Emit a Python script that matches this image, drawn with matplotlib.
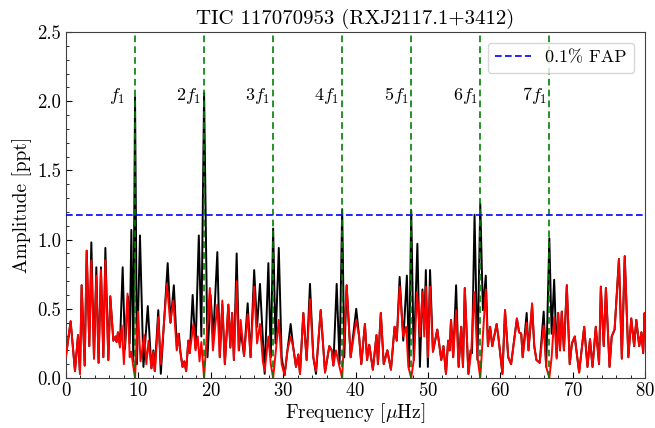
import numpy as np
import matplotlib
matplotlib.use("Agg")
import matplotlib.pyplot as plt

plt.rcParams['font.family'] = 'serif'
plt.rcParams['font.serif'] = ['cmr10']
plt.rcParams['mathtext.fontset'] = 'cm'
plt.rcParams['axes.unicode_minus'] = False
plt.rcParams['axes.formatter.use_mathtext'] = True

# ---------------- data ----------------
f1 = 9.54  # fundamental frequency [muHz]
harmonic_numbers = [1, 2, 3, 4, 5, 6, 7]
harmonic_labels = [r'$f_1$', r'$2f_1$', r'$3f_1$', r'$4f_1$', r'$5f_1$', r'$6f_1$', r'$7f_1$']
fap_level = 1.18

# original amplitude spectrum (black): frequency [muHz], amplitude [ppt]
black_freq = [0.0, 0.64, 1.24, 1.66, 1.93, 2.16, 2.58, 2.86, 3.22, 3.50, 3.87, 4.19, 4.50, 4.83,
              5.16, 5.44, 5.85, 6.12, 6.54, 6.85, 7.00, 7.18, 7.45, 7.83, 8.15, 8.56, 8.80, 9.03,
              9.30, 9.54, 9.80, 10.22, 10.70, 11.30, 11.80, 12.07, 12.25, 12.75, 13.10, 14.05,
              14.45, 14.90, 15.33, 15.60, 15.80, 16.10, 16.35, 16.60, 16.90, 17.10, 17.50, 17.90,
              18.35, 18.70, 19.08, 19.55, 19.97, 20.35, 20.91, 21.25, 21.60, 21.95, 22.43, 22.70,
              22.95, 23.20, 23.58, 23.90, 24.13, 24.60, 25.10, 25.50, 26.00, 26.40, 26.80, 27.45,
              27.96, 28.30, 28.62, 28.95, 29.40, 29.80, 30.20, 30.60, 31.04, 31.40, 31.78, 32.10,
              32.33, 32.79, 33.25, 33.71, 34.17, 34.54, 35.19, 35.79, 36.38, 36.71, 36.94, 37.40,
              37.80, 38.16, 38.45, 38.78, 39.33, 40.10, 40.50, 40.80, 41.30, 41.60, 41.90, 42.40,
              42.90, 43.10, 43.50, 43.90, 44.40, 44.90, 45.40, 45.70, 46.10, 46.60, 47.10, 47.40,
              47.70, 48.05, 48.55, 48.90, 49.25, 49.50, 49.72, 50.00, 50.30, 50.70, 51.30, 51.60,
              51.85, 52.15, 52.50, 52.80, 53.00, 53.20, 53.50, 53.90, 54.25, 54.60, 54.85, 55.10,
              55.60, 55.90, 56.10, 56.45, 56.85, 57.24, 57.60, 58.00, 58.30, 58.60, 58.90, 59.50,
              59.80, 60.30, 60.66, 61.10, 61.50, 62.30, 62.60, 62.90, 63.10, 63.65, 63.90, 64.40,
              64.70, 65.00, 65.45, 66.00, 66.35, 66.78, 67.10, 67.45, 67.80, 68.00, 68.25, 68.50,
              68.80, 69.20, 69.60, 69.90, 70.30, 70.45, 70.90, 71.60, 72.05, 72.40, 72.75, 73.20,
              73.65, 73.90, 74.30, 74.60, 75.10, 75.40, 75.80, 76.40, 76.80, 77.20, 77.70, 78.10,
              78.50, 78.80, 79.20, 79.50, 79.75, 79.95, 80.0]
black_amp = [0.16, 0.41, 0.05, 0.31, 0.03, 0.67, 0.09, 0.92, 0.23, 0.98, 0.14, 0.80, 0.11, 0.80,
             0.15, 0.94, 0.13, 0.59, 0.27, 0.30, 0.26, 0.33, 0.24, 0.80, 0.21, 0.59, 0.25, 1.07,
             0.12, 2.03, 0.10, 1.03, 0.08, 0.52, 0.07, 0.20, 0.05, 0.49, 0.03, 0.83,
             0.40, 0.67, 0.21, 0.32, 0.19, 0.08, 0.12, 0.05, 0.27, 0.18, 0.60, 0.21,
             1.03, 0.30, 2.06, 0.15, 0.60, 0.30, 0.91, 0.15, 0.53, 0.10, 0.53, 0.22,
             0.47, 0.13, 0.90, 0.20, 0.35, 0.16, 0.54, 0.15, 0.78, 0.37, 0.68, 0.03,
             0.83, 0.15, 1.08, 0.25, 0.94, 0.15, 0.02, 0.20, 0.39, 0.22, 0.08, 0.17,
             0.03, 0.47, 0.13, 0.68, 0.15, 0.03, 0.49, 0.04, 0.23, 0.20, 0.09, 0.68,
             0.10, 1.22, 0.15, 0.67, 0.15, 0.50, 0.30, 0.10, 0.39, 0.13, 0.24, 0.06,
             0.31, 0.10, 0.47, 0.10, 0.20, 0.06, 0.37, 0.27, 0.73, 0.27, 0.74, 0.08,
             1.21, 0.13, 0.97, 0.08, 0.64, 0.35, 0.78, 0.08, 0.78, 0.19, 0.35, 0.23,
             0.13, 0.23, 0.03, 0.27, 0.20, 0.42, 0.15, 0.67, 0.08, 0.37, 0.08, 0.65,
             0.03, 0.20, 0.18, 1.18, 0.13, 1.26, 0.49, 0.74, 0.23, 0.37, 0.23, 0.39,
             0.27, 0.03, 0.49, 0.15, 0.10, 0.43, 0.33, 0.32, 0.15, 0.47, 0.20, 0.52,
             0.23, 0.13, 0.11, 0.48, 0.08, 1.01, 0.32, 0.71, 0.15, 0.47, 0.20, 0.48,
             0.20, 0.67, 0.10, 0.25, 0.30, 0.23, 0.04, 0.37, 0.08, 0.28, 0.08, 0.37,
             0.10, 0.66, 0.23, 0.65, 0.08, 0.30, 0.35, 0.86, 0.14, 0.88, 0.15, 0.43,
             0.23, 0.42, 0.23, 0.33, 0.18, 0.47, 0.30]

# prewhitened spectrum (red)
red_freq = [0.0, 0.64, 1.24, 1.66, 1.93, 2.16, 2.58, 2.86, 3.22, 3.50, 3.87, 4.19, 4.50, 4.83,
            5.16, 5.44, 5.85, 6.12, 6.54, 6.85, 7.00, 7.18, 7.45, 7.70, 8.00, 8.50, 8.80, 9.00,
            9.54, 9.95, 10.30, 10.80, 11.10, 11.40, 11.80, 12.07, 12.30, 12.75, 13.10, 13.95,
            14.40, 14.83, 15.30, 15.52, 15.80, 16.10, 16.35, 16.60, 16.90, 17.10, 17.60, 17.90,
            18.20, 18.45, 18.70, 19.08, 19.87, 20.30, 20.91, 21.25, 21.60, 21.95, 22.43, 22.70,
            22.95, 23.20, 23.58, 23.85, 24.13, 24.60, 25.10, 25.50, 26.00, 26.40, 26.80, 27.20,
            27.45, 27.96, 28.30, 28.62, 29.00, 29.40, 29.80, 30.20, 30.60, 31.04, 31.40, 31.78,
            32.10, 32.33, 32.79, 33.25, 33.71, 34.17, 34.54, 35.19, 35.79, 36.38, 36.71, 36.94,
            37.30, 37.70, 38.16, 38.78, 39.33, 40.10, 40.50, 40.80, 41.30, 41.60, 41.90, 42.40,
            42.90, 43.10, 43.50, 43.90, 44.40, 44.90, 45.40, 45.70, 46.10, 46.60, 47.00, 47.30,
            47.70, 48.10, 48.50, 48.90, 49.25, 49.50, 49.72, 50.00, 50.30, 50.70, 51.30, 51.60,
            51.85, 52.15, 52.50, 52.80, 53.00, 53.20, 53.50, 53.90, 54.25, 54.60, 54.85, 55.10,
            55.60, 56.00, 56.40, 56.85, 57.24, 57.60, 58.00, 58.30, 58.60, 58.90, 59.50, 59.80,
            60.30, 60.66, 61.10, 61.50, 62.30, 62.60, 62.90, 63.10, 63.65, 63.90, 64.40, 64.70,
            65.00, 65.45, 66.00, 66.35, 66.78, 67.10, 67.45, 67.80, 68.00, 68.25, 68.50, 68.80,
            69.20, 69.60, 69.90, 70.30, 70.45, 70.90, 71.60, 72.05, 72.40, 72.75, 73.20, 73.65,
            73.90, 74.30, 74.60, 75.10, 75.40, 75.80, 76.40, 76.80, 77.20, 77.70, 78.10, 78.50,
            78.80, 79.20, 79.50, 79.75, 79.95, 80.0]
red_amp = [0.16, 0.41, 0.05, 0.31, 0.03, 0.67, 0.09, 0.92, 0.23, 0.85, 0.14, 0.74, 0.11, 0.78,
           0.15, 0.85, 0.13, 0.59, 0.27, 0.30, 0.26, 0.33, 0.22, 0.38, 0.10, 0.61, 0.15, 0.19,
           0.0, 0.48, 0.12, 0.31, 0.10, 0.27, 0.07, 0.19, 0.05, 0.44, 0.10, 0.68,
           0.40, 0.56, 0.20, 0.32, 0.19, 0.08, 0.12, 0.05, 0.27, 0.18, 0.39, 0.20,
           0.30, 0.12, 0.26, 0.0, 0.65, 0.20, 0.53, 0.15, 0.56, 0.10, 0.53, 0.22,
           0.47, 0.13, 0.70, 0.20, 0.42, 0.16, 0.46, 0.15, 0.66, 0.25, 0.39, 0.12,
           0.05, 0.30, 0.10, 0.0, 0.20, 0.42, 0.10, 0.02, 0.20, 0.30, 0.22, 0.08,
           0.17, 0.03, 0.47, 0.13, 0.57, 0.15, 0.05, 0.49, 0.04, 0.23, 0.20, 0.09,
           0.20, 0.10, 0.0, 0.67, 0.15, 0.42, 0.30, 0.10, 0.39, 0.13, 0.24, 0.06,
           0.31, 0.10, 0.47, 0.10, 0.20, 0.06, 0.37, 0.27, 0.66, 0.30, 0.37, 0.08,
           0.0, 0.15, 0.62, 0.30, 0.62, 0.30, 0.66, 0.15, 0.66, 0.19, 0.35, 0.23,
           0.13, 0.23, 0.03, 0.27, 0.20, 0.42, 0.15, 0.49, 0.08, 0.37, 0.08, 0.65,
           0.03, 0.20, 0.62, 0.15, 0.0, 0.30, 0.64, 0.23, 0.37, 0.23, 0.39, 0.27,
           0.03, 0.49, 0.15, 0.10, 0.43, 0.33, 0.32, 0.15, 0.40, 0.20, 0.54, 0.23,
           0.13, 0.11, 0.38, 0.08, 0.0, 0.15, 0.44, 0.14, 0.47, 0.20, 0.48, 0.20,
           0.67, 0.10, 0.25, 0.30, 0.23, 0.04, 0.37, 0.08, 0.28, 0.08, 0.37, 0.10,
           0.66, 0.23, 0.65, 0.08, 0.30, 0.35, 0.86, 0.14, 0.88, 0.15, 0.43, 0.23,
           0.42, 0.23, 0.33, 0.18, 0.47, 0.30]

title = 'TIC 117070953 (RXJ2117.1+3412)'

# ---------------- figure ----------------
fig = plt.figure(figsize=(6.55, 4.28), dpi=100)
ax = fig.add_axes([66/655, 50/428, 579/655, 346/428])

ax.plot(black_freq, black_amp, color='black', lw=1.4, zorder=2)
ax.plot(red_freq, red_amp, color='red', lw=1.4, zorder=3)

for n, lab in zip(harmonic_numbers, harmonic_labels):
    ax.axvline(n * f1, color='green', ls='--', lw=1.2, dashes=(4, 2.5), zorder=4)
    off = 1.3 if n == 1 else 0.35
    ax.text(n * f1 - off, 2.04, lab, ha='right', va='center', fontsize=13)

ax.axhline(fap_level, color='blue', ls='--', lw=1.2, dashes=(4, 2), zorder=5,
           label=r'0.1% FAP')

ax.set_xlim(0, 80)
ax.set_ylim(0, 2.5)
ax.set_xticks(np.arange(0, 81, 10))
ax.set_yticks(np.arange(0, 2.51, 0.5))
ax.set_xticks(np.arange(0, 81, 2), minor=True)
ax.set_yticks(np.arange(0, 2.51, 0.1), minor=True)
ax.tick_params(which='both', direction='in', labelsize=13.5)
ax.tick_params(which='major', length=4)
ax.tick_params(which='minor', length=2)
ax.tick_params(axis='x', pad=3)
ax.yaxis.set_major_formatter(matplotlib.ticker.FormatStrFormatter('%.1f'))
for s in ax.spines.values():
    s.set_color('0.25')

ax.set_xlabel(r'Frequency [$\mu$Hz]', fontsize=14, labelpad=1)
ax.set_ylabel('Amplitude [ppt]', fontsize=14)
ax.set_title(title, fontsize=15)
ax.legend(loc='upper right', fontsize=13, handlelength=2.0, borderaxespad=0.6)

fig.savefig('out.png', dpi=100)
